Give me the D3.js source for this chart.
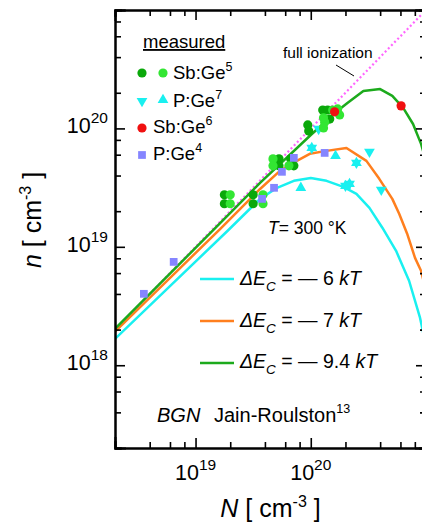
<!DOCTYPE html>
<html><head><meta charset="utf-8">
<script src="https://cdn.jsdelivr.net/npm/d3@7"></script>
<style>
body{margin:0;background:#fff;overflow:hidden}
text{font-family:"Liberation Sans",Arial,sans-serif;fill:#000}
</style>
</head><body>
<svg id="c" width="422" height="523"></svg>
<script>
// ---------- data ----------
const xTickValues = [1e19, 1e20, 1e21];
const xTickExp = ["19", "20", "21"];
const yTickValues = [1e18, 1e19, 1e20, 1e21];
const yTickExp = ["18", "19", "20", "21"];
const minorMultipliers = [2, 4, 6, 8];

// computed curves  (N, n)
const dE6_N = [2e18, 1.89e19, 3.63e19, 5.1e19, 7.13e19, 1e20, 1.37e20, 1.92e20, 2.49e20, 3.23e20, 4.18e20, 5.5e20, 7.13e20, 8.87e20, 1e21];
const dE6_n = [1.67e18, 1.36e19, 2.54e19, 3.15e19, 3.61e19, 3.82e19, 3.61e19, 3.21e19, 2.8e19, 2.13e19, 1.45e19, 9.25e18, 5.17e18, 2.52e18, 1.46e18];
const dE7_N = [2e18, 1.64e19, 3.63e19, 5.4e19, 7.57e19, 9.8e19, 1.37e20, 2.04e20, 3.04e20, 3.93e20, 5.1e20, 5.85e20, 6.86e20, 8.03e20, 9.06e20, 1e21];
const dE7_n = [1.92e18, 1.42e19, 3.08e19, 4.38e19, 5.32e19, 6.1e19, 6.46e19, 6.84e19, 5.32e19, 3.75e19, 2.54e19, 1.9e19, 1.29e19, 8.07e18, 6.27e18, 4.25e18];
const dE94_N = [2e18, 1e19, 3.63e19, 1e20, 1.71e20, 2.08e20, 2.86e20, 4e20, 5.1e20, 6.34e20, 7.72e20, 9.06e20, 1e21];
const dE94_n = [2.03e18, 9.8e18, 3.47e19, 8.8e19, 1.41e20, 1.64e20, 2.07e20, 2.15e20, 1.88e20, 1.49e20, 1.09e20, 7.4e19, 5.3e19];
const fullIonN = [2e18, 1e21];

// measured
const sbGe5a_N = [1.78e19, 1.78e19, 3.16e19, 3.16e19, 5.3e19, 5.3e19, 7.13e19, 6.7e19, 9.42e19, 9.6e19, 1.27e20, 1.40e20, 1.46e20];
const sbGe5a_n = [2.75e19, 2.31e19, 2.75e19, 2.31e19, 5.53e19, 4.83e19, 4.83e19, 5.53e19, 1.07e20, 9.5e19, 1.43e20, 1.43e20, 1.2e20];
const sbGe5b_N = [2.0e19, 2.0e19, 3.85e19, 3.85e19, 4.7e19, 4.7e19, 6.46e19, 1.29e20, 1.32e20, 1.55e20, 1.71e20, 1.29e20, 1.78e20];
const sbGe5b_n = [2.75e19, 2.31e19, 2.75e19, 2.31e19, 5.53e19, 4.83e19, 4.83e19, 1.01e20, 1.13e20, 1.43e20, 1.46e20, 1.23e20, 1.30e20];
const pGe7down_N = [1.17e20, 3.23e20, 4.09e20, 1.02e20, 2.49e20, 2.0e20, 2.17e20];
const pGe7down_n = [9.9e19, 6.34e19, 3.03e19, 6.84e19, 5.12e19, 3.27e19, 3.4e19];
const pGe7up_N = [1.64e20, 8.2e19, 1.02e20, 2.49e20, 2.0e20, 2.17e20];
const pGe7up_n = [5.86e19, 3.15e19, 6.84e19, 5.12e19, 3.27e19, 3.4e19];
const sbGe6_N = [1.61e20, 6.08e20];
const sbGe6_n = [1.38e20, 1.55e20];
const pGe4_N = [3.56e18, 6.46e18, 3.78e19, 4.8e19, 5.62e19, 7.13e19, 1.32e20];
const pGe4_n = [4.01e18, 7.46e18, 2.54e19, 3.15e19, 4.3e19, 5.64e19, 6.21e19];

const curveLabels = ["6", "7", "9.4"];

// ---------- drawing ----------
const C = {cyan:"#19f0f0", orange:"#ff7f1e", green:"#1caa1c", dkgreen:"#0aa80a", ltgreen:"#33e633",
           red:"#f01010", blue:"#8585ff", pink:"#ff66ff"};
const L = 115, R = 426, T = 10, B = 448;
const x = d3.scaleLog().domain([2e18, 1e21]).range([L, R]);
const y = d3.scaleLog().domain([2e17, 1e21]).range([B, T]);
const svg = d3.select("#c");

svg.append("defs").append("clipPath").attr("id","clip")
  .append("rect").attr("x",L).attr("y",T).attr("width",R-L).attr("height",B-T);
const plot = svg.append("g").attr("clip-path","url(#clip)");

const zip = (a,b)=>a.map((v,i)=>[v,b[i]]);
const line = d3.line().x(d=>x(d[0])).y(d=>y(d[1]));

// full ionization
plot.append("path").datum(zip(fullIonN, fullIonN)).attr("d", line)
  .attr("fill","none").attr("stroke",C.pink).attr("stroke-width",2.2).attr("stroke-dasharray","2,2.5");

const curves = [[dE6_N,dE6_n,C.cyan],[dE7_N,dE7_n,C.orange],[dE94_N,dE94_n,C.green]];
curves.forEach(([a,b,col])=>{
  plot.append("path").datum(zip(a,b)).attr("d", line)
    .attr("fill","none").attr("stroke",col).attr("stroke-width",2.5).attr("stroke-linejoin","round");
});

const tri = d3.symbol().type(d3.symbolTriangle).size(50)();
const sq = d3.symbol().type(d3.symbolSquare).size(60)();
function pts(Ns, ns, kind, col, rot){
  const g = plot.append("g");
  zip(Ns,ns).forEach(d=>{
    if(kind==="c") g.append("circle").attr("cx",x(d[0])).attr("cy",y(d[1])).attr("r",4.6).attr("fill",col);
    else g.append("path").attr("d", kind==="t"?tri:sq)
      .attr("transform",`translate(${x(d[0])},${y(d[1])}) rotate(${rot||0})`).attr("fill",col);
  });
}
pts(pGe7down_N, pGe7down_n, "t", C.cyan, 180);
pts(pGe7up_N, pGe7up_n, "t", C.cyan, 0);
pts(sbGe5a_N, sbGe5a_n, "c", C.dkgreen);
pts(sbGe5b_N, sbGe5b_n, "c", C.ltgreen);
pts(pGe4_N, pGe4_n, "s", C.blue);
pts(sbGe6_N, sbGe6_n, "c", C.red);

// axes
const ax = svg.append("g");
function minors(dom){
  const out=[]; for(let e=17;e<=21;e++) minorMultipliers.forEach(m=>{const v=m*Math.pow(10,e); if(v>=dom[0]&&v<=dom[1]) out.push(v);});
  return out;
}
const styleAxis = g=>{ g.select(".domain").attr("stroke","#000").attr("stroke-width",2);
  g.selectAll(".tick line").attr("stroke","#000").attr("stroke-width",1.6); g.selectAll(".tick text").remove(); };
const xMaj = xTickValues.filter(v=>v<=1e21), yMaj = yTickValues;
[[d3.axisBottom, B],[d3.axisTop, T]].forEach(([f,pos])=>{
  ax.append("g").attr("transform",`translate(0,${pos})`).call(f(x).tickValues(xMaj).tickSize(-10).tickFormat("")).call(styleAxis);
  ax.append("g").attr("transform",`translate(0,${pos})`).call(f(x).tickValues(minors(x.domain())).tickSize(-6).tickFormat("")).call(styleAxis);
});
[[d3.axisLeft, L],[d3.axisRight, R]].forEach(([f,pos])=>{
  ax.append("g").attr("transform",`translate(${pos},0)`).call(f(y).tickValues(yMaj).tickSize(-10).tickFormat("")).call(styleAxis);
  ax.append("g").attr("transform",`translate(${pos},0)`).call(f(y).tickValues(minors(y.domain())).tickSize(-6).tickFormat("")).call(styleAxis);
});
ax.selectAll(".domain").attr("stroke-linecap","square");

// tick labels
yTickValues.forEach((v,i)=>{
  if(v>=1e21) return;
  const t = svg.append("text").attr("x",L-7).attr("y",y(v)+5).attr("text-anchor","end").style("font-size","21.5px");
  t.append("tspan").text("10");
  t.append("tspan").attr("dy",-10).style("font-size","15.5px").text(yTickExp[i]);
});
xTickValues.forEach((v,i)=>{
  if(v>=1e21) return;
  const t = svg.append("text").attr("x",x(v)).attr("y",480).attr("text-anchor","middle").style("font-size","21.5px");
  t.append("tspan").text("10");
  t.append("tspan").attr("dy",-10).style("font-size","15.5px").text(xTickExp[i]);
});

// axis titles
const xt = svg.append("text").attr("x",(L+R)/2).attr("y",517).attr("text-anchor","middle").style("font-size","25px");
xt.append("tspan").style("font-style","italic").text("N");
xt.append("tspan").text("  [ cm");
xt.append("tspan").attr("dy",-10).style("font-size","16px").text("-3");
xt.append("tspan").attr("dy",10).text(" ]");
const yt = svg.append("text").attr("transform","translate(41,220) rotate(-90)").attr("text-anchor","middle").style("font-size","25px");
yt.append("tspan").style("font-style","italic").text("n");
yt.append("tspan").text("  [ cm");
yt.append("tspan").attr("dy",-10).style("font-size","16px").text("-3");
yt.append("tspan").attr("dy",10).text(" ]");

// legend (markers)
const lg = svg.append("g");
lg.append("text").attr("x",143).attr("y",48).style("font-size","18.5px").style("text-decoration","underline").text("measured");
lg.append("circle").attr("cx",142).attr("cy",73).attr("r",4.6).attr("fill",C.dkgreen);
lg.append("circle").attr("cx",163).attr("cy",73).attr("r",4.6).attr("fill",C.ltgreen);
lg.append("path").attr("d",tri).attr("transform","translate(142,101) rotate(180)").attr("fill",C.cyan);
lg.append("path").attr("d",tri).attr("transform","translate(163,100)").attr("fill",C.cyan);
lg.append("circle").attr("cx",142).attr("cy",128).attr("r",4.6).attr("fill",C.red);
lg.append("path").attr("d",sq).attr("transform","translate(142,155)").attr("fill",C.blue);
[["Sb:Ge","5",173,79],["P:Ge","7",173,107],["Sb:Ge","6",153,133],["P:Ge","4",153,160]].forEach(([a,b,xx,yy])=>{
  const t = lg.append("text").attr("x",xx).attr("y",yy).style("font-size","18.5px");
  t.append("tspan").text(a);
  t.append("tspan").attr("dy",-8).style("font-size","12.5px").text(b);
});

// full ionization label
svg.append("text").attr("x",283).attr("y",58).style("font-size","15.5px").text("full ionization");
svg.append("line").attr("x1",336).attr("y1",65).attr("x2",354).attr("y2",76).attr("stroke","#000").attr("stroke-width",1);

// temperature
const tt = svg.append("text").attr("x",268).attr("y",234).style("font-size","17.5px");
tt.append("tspan").style("font-style","italic").text("T");
tt.append("tspan").text("= 300 °K");

// curve legend
[C.cyan, C.orange, C.green].forEach((col,i)=>{
  const yy = [279,321,363][i];
  svg.append("line").attr("x1",200).attr("x2",234).attr("y1",yy).attr("y2",yy).attr("stroke",col).attr("stroke-width",2.5);
  const t = svg.append("text").attr("x",240).attr("y",[285,327,368][i]).style("font-size","19.5px");
  t.append("tspan").style("font-style","italic").text("ΔE");
  t.append("tspan").attr("dy",6).style("font-style","italic").style("font-size","13.5px").text("C");
  t.append("tspan").attr("dy",-6).text(" = — " + curveLabels[i] + " ");
  t.append("tspan").style("font-style","italic").text("kT");
});

// BGN
const bg = svg.append("text").attr("x",157).attr("y",422).style("font-size","20px");
bg.append("tspan").style("font-style","italic").text("BGN");
bg.append("tspan").attr("x",214).text("Jain-Roulston");
bg.append("tspan").attr("dy",-9).style("font-size","12.5px").text("13");
</script>
</body></html>
